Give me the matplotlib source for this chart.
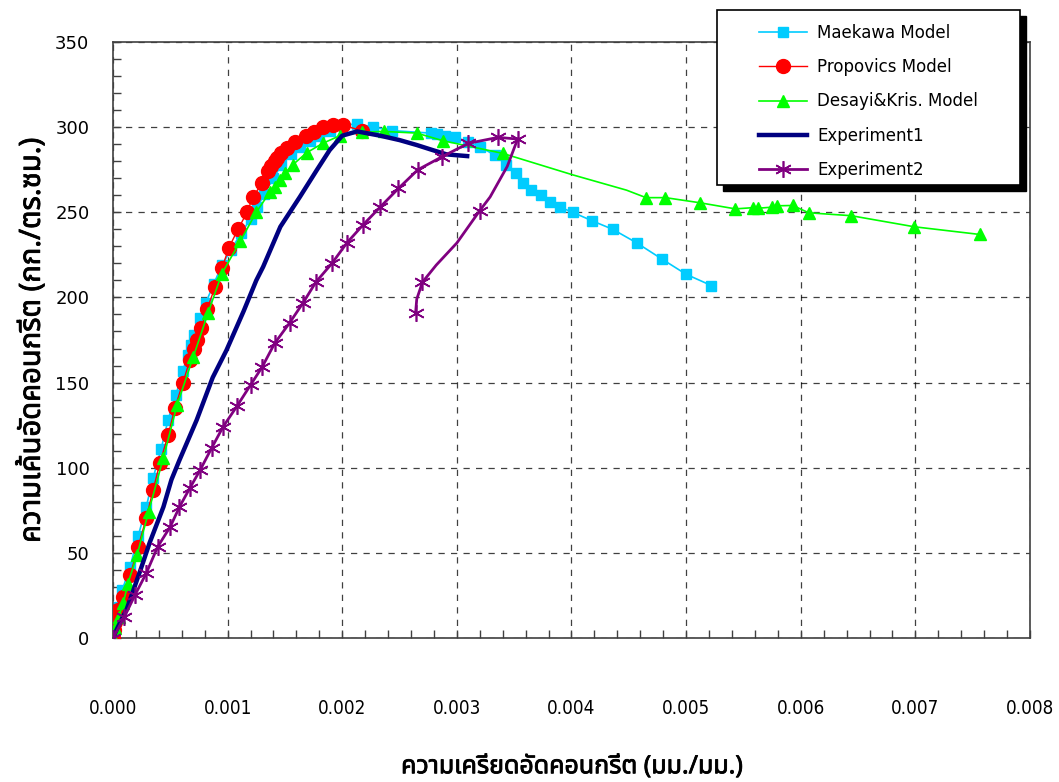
import matplotlib
matplotlib.use("Agg")
from matplotlib import pyplot as plt
from matplotlib import patheffects
from matplotlib.patches import Rectangle
from matplotlib.ticker import MultipleLocator, FormatStrFormatter

# Maekawa model
maekawa_strain = [0, 0.00001, 0.00003, 0.00005, 0.00008, 0.00015, 0.00022, 0.00029, 0.00035, 0.00042,
                  0.00048, 0.00055, 0.00061, 0.00065, 0.00068, 0.00071, 0.00076, 0.00081, 0.00088, 0.00095,
                  0.00103, 0.00112, 0.00120, 0.00126, 0.00132, 0.00140, 0.00147, 0.00155, 0.00163, 0.00172,
                  0.00180, 0.00189, 0.00200, 0.00213, 0.00227, 0.00243, 0.00277, 0.00283, 0.00290, 0.00298,
                  0.00310, 0.00320, 0.00333, 0.00343, 0.00352, 0.00358, 0.00365, 0.00373, 0.00381, 0.00390,
                  0.00401, 0.00418, 0.00436, 0.00457, 0.00479, 0.00500, 0.00522]
maekawa_stress = [0, 4, 11, 18, 28, 42, 60, 77, 94, 111,
                  128, 143, 157, 166, 172, 178, 188, 197, 208, 219,
                  228, 238, 246, 253, 261, 270, 278, 284, 288.5, 292,
                  295, 298, 301, 302, 300, 298, 296.5, 296, 295, 294,
                  291, 288.5, 283.6, 278, 273, 267, 263, 260, 256, 253,
                  250, 245, 240, 232, 222.5, 213.6, 207]

# Propovics model
propovics_strain = [0, 0.00001, 0.00002, 0.00004, 0.00009, 0.00015, 0.00022, 0.00029, 0.00035, 0.00041,
                    0.00048, 0.00054, 0.00061, 0.00067, 0.00071, 0.00073, 0.00077, 0.00082, 0.00089, 0.00095,
                    0.00101, 0.00109, 0.00117, 0.00122, 0.00130, 0.00135, 0.00138, 0.00141, 0.00143, 0.00147,
                    0.00152, 0.00159, 0.00168, 0.00175, 0.00183, 0.00192, 0.00201, 0.00217]
propovics_stress = [0, 4.6, 9.5, 16.5, 24, 37, 53.6, 70.5, 87, 103,
                    119, 135, 150, 163, 170, 175, 182, 193, 206, 217,
                    229, 240, 250, 259, 267, 274, 277, 280, 282, 285,
                    288, 291, 295, 297, 300, 301, 301, 298]

# Desayi & Krishnan model
desayi_strain = [0, 0.00002, 0.00005, 0.00009, 0.00013, 0.00021, 0.00031, 0.00044, 0.00056, 0.00070,
                 0.00083, 0.00095, 0.00111, 0.00125, 0.00137, 0.00141, 0.00146, 0.00150, 0.00157, 0.00169,
                 0.00183, 0.00198, 0.00217, 0.00236, 0.00265, 0.00288, 0.00340, 0.00401, 0.00448, 0.00465,
                 0.00482, 0.00512, 0.00543, 0.00558, 0.00563, 0.00575, 0.00579, 0.00593, 0.00607, 0.00644,
                 0.00699, 0.00756]
desayi_stress = [0, 6, 12.3, 20.5, 32, 48.7, 74, 106, 137, 165,
                 191, 214, 233, 250, 262, 265, 269, 273, 278, 285,
                 290.5, 295, 297, 297.5, 296.5, 292, 284.6, 272, 263, 258.6,
                 258.6, 255.6, 252, 252.7, 252.4, 253, 253.8, 254, 249.7, 248,
                 241.5, 237]
desayi_no_marker = [27, 28]

# Experiment 1
exp1_strain = [0, 0.00003, 0.00012, 0.00024, 0.00032, 0.00044, 0.00051, 0.00058, 0.00073, 0.00087,
               0.00099, 0.00114, 0.00125, 0.00131, 0.00146, 0.00163, 0.00178, 0.00189, 0.00200, 0.00213,
               0.00233, 0.00250, 0.00265, 0.00279, 0.00291, 0.00309]
exp1_stress = [0, 4.7, 17, 40, 56, 77, 93, 104.5, 128, 153,
               169, 192, 210, 218, 241.5, 259, 275, 286.5, 295, 297.5,
               295, 292.4, 289.5, 286.5, 284, 283]

# Experiment 2
exp2_strain = [0, 0.00010, 0.00019, 0.00029, 0.00039, 0.00050, 0.00058, 0.00067, 0.00076, 0.00086,
               0.00096, 0.00108, 0.00120, 0.00130, 0.00141, 0.00154, 0.00166, 0.00177, 0.00191, 0.00204,
               0.00218, 0.00233, 0.00249, 0.00266, 0.00287, 0.00310, 0.00336, 0.00353, 0.00344, 0.00329,
               0.00320, 0.00300, 0.00282, 0.00270, 0.00265, 0.00264]
exp2_stress = [0, 12.5, 25, 38, 53.6, 65.4, 77, 88, 98.6, 111.5,
               124, 136, 148.6, 159, 173, 185, 197, 209, 220, 232,
               242.5, 253, 264, 275, 282.6, 290.5, 294, 293, 277, 259,
               251, 232, 219, 209, 199, 191]
exp2_no_marker = [28, 29, 31, 32, 34]

labels = ["Maekawa Model", "Propovics Model", "Desayi&Kris. Model", "Experiment1", "Experiment2"]
x_label = "ความเครียดอัดคอนกรีต (มม./มม.)"
y_label = "ความเค้นอัดคอนกรีต (กก./ตร.ซม.)"

thai_fonts = ["Noto Sans Thai", "Loma", "Garuda", "Noto Sans", "DejaVu Sans"]


def keep(n, skip):
	return [i for i in range(n) if i not in skip]


def main():
	fig = plt.figure(figsize=(10.59, 7.82), dpi=100)
	ax = fig.add_axes([0.1067, 0.1841, 0.8659, 0.7622])

	ax.plot(maekawa_strain, maekawa_stress, color="#00CCFF", lw=1.2, marker="s", ms=7.5,
	        mec="#00CCFF", mfc="#00CCFF", label=labels[0], zorder=3)
	ax.plot(propovics_strain, propovics_stress, color="#FF0000", lw=1.0, marker="o", ms=10,
	        mec="#FF0000", mfc="#FF0000", label=labels[1], zorder=4)
	ax.plot(desayi_strain, desayi_stress, color="#00FF00", lw=1.2, marker="^", ms=9,
	        mec="#00FF00", mfc="#00FF00", markevery=keep(len(desayi_strain), desayi_no_marker),
	        label=labels[2], zorder=5)
	ax.plot(exp1_strain, exp1_stress, color="#000080", lw=3.2, label=labels[3], zorder=6)
	ax.plot(exp2_strain, exp2_stress, color="#800080", lw=2.0, marker=(6, 2, 0), ms=12, mew=1.2,
	        markevery=keep(len(exp2_strain), exp2_no_marker), label=labels[4], zorder=7)

	ax.set_xlim(0, 0.008)
	ax.set_ylim(0, 350)
	ax.xaxis.set_major_locator(MultipleLocator(0.001))
	ax.xaxis.set_minor_locator(MultipleLocator(0.0002))
	ax.yaxis.set_major_locator(MultipleLocator(50))
	ax.yaxis.set_minor_locator(MultipleLocator(10))
	ax.xaxis.set_major_formatter(FormatStrFormatter("%.3f"))
	ax.grid(True, which="major", color="black", linestyle=(0, (5, 5)), lw=0.9, alpha=0.75)

	ax.tick_params(axis="both", which="both", direction="in", length=6, width=1, color="#404040")
	ax.tick_params(axis="x", pad=44, labelsize=13.5)
	ax.tick_params(axis="y", pad=17, labelsize=13)
	for lab in ax.get_xticklabels():
		lab.set_family(["Liberation Sans Narrow", "DejaVu Sans"])
		lab.set_stretch("condensed")
	for spine in ax.spines.values():
		spine.set_color("#404040")
		spine.set_linewidth(1.2)

	# the Thai font has no bold face, so thicken the glyphs with a stroke
	bold = [patheffects.withStroke(linewidth=0.6, foreground="black")]
	ax.set_xlabel(x_label, fontsize=18, family=thai_fonts, labelpad=26, path_effects=bold)
	ax.set_ylabel(y_label, fontsize=21, family=thai_fonts, labelpad=6, path_effects=bold)

	# legend box with a hard black shadow
	box = (717 / 1059, 1 - 185 / 782, 303 / 1059, 175 / 782)
	shadow = Rectangle((box[0] + 6 / 1059, box[1] - 6 / 782), box[2], box[3], transform=fig.transFigure,
	                   facecolor="black", edgecolor="black", zorder=5)
	frame = Rectangle((box[0], box[1]), box[2], box[3], transform=fig.transFigure,
	                  facecolor="white", edgecolor="black", lw=1.2, zorder=6)
	fig.add_artist(shadow)
	fig.add_artist(frame)
	leg = fig.legend(loc="center", bbox_to_anchor=(box[0] + box[2] / 2, box[1] + box[3] / 2 - 4 / 782),
	                 bbox_transform=fig.transFigure, frameon=False, fontsize=12,
	                 handlelength=2.9, handletextpad=0.6, labelspacing=0.98, borderpad=0.3)
	leg.set_zorder(7)

	fig.savefig("out.png", dpi=100)
	plt.close(fig)


if __name__ == "__main__":
	main()
